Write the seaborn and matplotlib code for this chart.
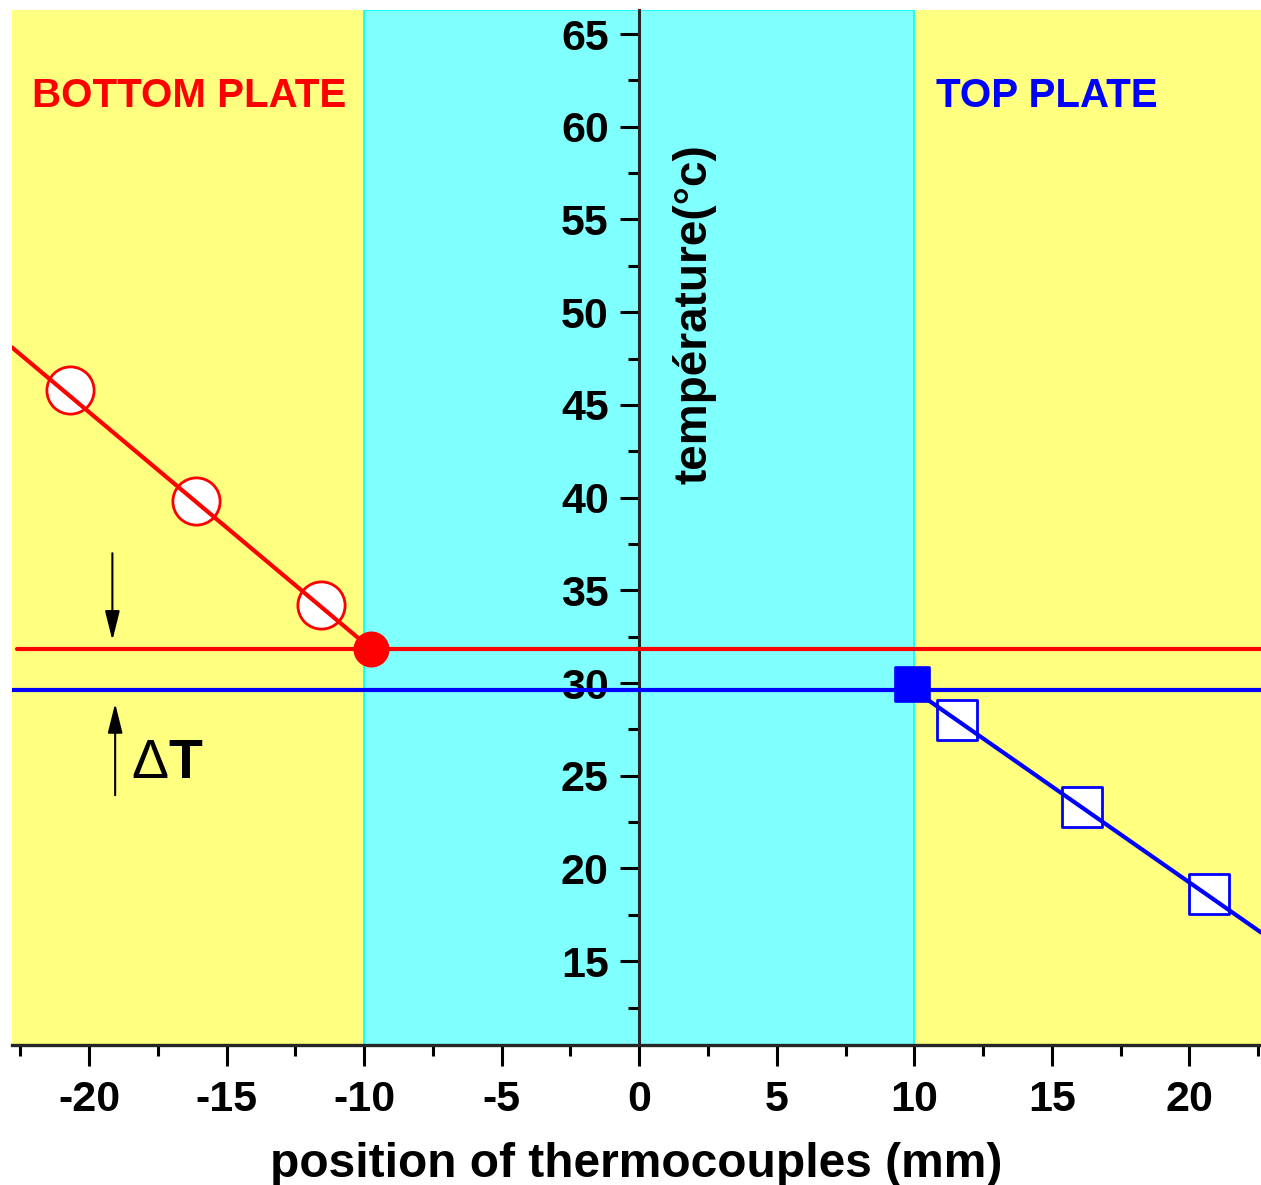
import matplotlib
matplotlib.use('Agg')
import matplotlib.pyplot as plt
from matplotlib.ticker import MultipleLocator
import seaborn as sns
import pandas as pd

sns.set_style('ticks')
plt.rcParams['font.family'] = ['Liberation Sans', 'DejaVu Sans']
plt.rcParams['font.weight'] = 'bold'
plt.rcParams['axes.unicode_minus'] = False
for key in ['text.color', 'axes.labelcolor', 'xtick.color', 'ytick.color',
            'xtick.labelcolor', 'ytick.labelcolor']:
    plt.rcParams[key] = 'black'

# thermocouple readings (mm, °C)
bottom_x = [-20.7, -16.1, -11.55]
bottom_y = [45.8, 39.8, 34.2]
bottom_surf_x = [-9.75]
bottom_surf_y = [31.85]
top_x = [11.55, 16.1, 20.7]
top_y = [28.0, 23.3, 18.6]
top_surf_x = [9.9]
top_surf_y = [29.95]

# linear fits extrapolated to the plate surfaces
bottom_fit_x = [-22.8, -9.75]
bottom_fit_y = [48.1, 31.85]
top_fit_x = [10.0, 22.6]
top_fit_y = [29.6, 16.55]

# surface temperatures (horizontal levels)
t_bottom = 31.85
t_top = 29.62

yellow = '#FFFF80'
cyan = '#80FFFF'
red = '#FF0000'
blue = '#0000FF'

fig = plt.figure(figsize=(12.61, 11.85), dpi=100)
ax = fig.add_axes([0.0095, 0.118, 0.9905, 0.8736])
ax.set_facecolor(yellow)
ax.axvspan(-10, 10, facecolor=cyan, edgecolor='#00FFFF', lw=1.2, zorder=0)

# horizontal surface-temperature lines
sns.lineplot(x=[-22.6, 22.6], y=[t_bottom, t_bottom], color=red, lw=3, ax=ax, zorder=4)
sns.lineplot(x=[-22.8, 22.6], y=[t_top, t_top], color=blue, lw=3, ax=ax, zorder=4)

# fit lines
sns.lineplot(x=bottom_fit_x, y=bottom_fit_y, color=red, lw=3, ax=ax, zorder=4)
sns.lineplot(x=top_fit_x, y=top_fit_y, color=blue, lw=3, ax=ax, zorder=4)

# measured points
df_b = pd.DataFrame({'x': bottom_x, 'y': bottom_y})
df_t = pd.DataFrame({'x': top_x, 'y': top_y})
sns.scatterplot(data=df_b, x='x', y='y', marker='o', s=34**2, facecolor='white',
                edgecolor=red, linewidth=2, ax=ax, zorder=3)
sns.scatterplot(data=df_t, x='x', y='y', marker='s', s=29**2, facecolor='white',
                edgecolor=blue, linewidth=2, ax=ax, zorder=3)
sns.scatterplot(x=bottom_surf_x, y=bottom_surf_y, marker='o', s=24**2, color=red,
                edgecolor=red, ax=ax, zorder=5)
sns.scatterplot(x=top_surf_x, y=top_surf_y, marker='s', s=24**2, color=blue,
                edgecolor=blue, ax=ax, zorder=5)

# delta T arrows
arrow = dict(arrowstyle='-|>,head_length=0.6,head_width=0.15', color='black',
             lw=1.5, mutation_scale=30, shrinkA=0, shrinkB=0)
ax.annotate('', xy=(-19.15, 32.3), xytext=(-19.15, 37.0), arrowprops=arrow)
ax.annotate('', xy=(-19.05, 28.9), xytext=(-19.05, 23.95), arrowprops=arrow)
ax.text(-18.45, 24.87, 'Δ', fontsize=40, fontweight='normal', va='baseline', ha='left')
ax.text(-17.1, 24.87, 'T', fontsize=40, fontweight='bold', va='baseline', ha='left')

ax.text(-22.07, 61.66, 'BOTTOM PLATE', color=red, fontsize=29, fontweight='bold',
        ha='left', va='center')
ax.text(10.8, 61.66, 'TOP PLATE', color=blue, fontsize=29, fontweight='bold',
        ha='left', va='center')
ax.text(2.0, 49.9, 'température(°c)', rotation=90, fontsize=33, fontweight='bold',
        ha='center', va='center')

ax.set_xlim(-22.8, 22.6)
ax.set_ylim(10.47, 66.3)

for s in ['top', 'right']:
    ax.spines[s].set_visible(False)
ax.spines['left'].set_position(('data', 0))
ax.spines['left'].set_linewidth(2.2)
ax.spines['bottom'].set_linewidth(2.4)
ax.spines['left'].set_zorder(2.5)

ax.xaxis.set_major_locator(MultipleLocator(5))
ax.xaxis.set_minor_locator(MultipleLocator(2.5))
ax.yaxis.set_major_locator(MultipleLocator(5))
ax.yaxis.set_minor_locator(MultipleLocator(2.5))
ax.set_yticks(range(15, 70, 5))
ax.tick_params(axis='both', which='major', direction='out', length=14, width=2.2,
               labelsize=31, pad=8)
ax.tick_params(axis='x', which='major', length=15, pad=10)
ax.tick_params(axis='both', which='minor', direction='out', length=8, width=2.2)
for lab in ax.get_xticklabels() + ax.get_yticklabels():
    lab.set_fontweight('bold')

ax.set_xlabel('position of thermocouples (mm)', fontsize=34.5, fontweight='bold', labelpad=16)
ax.set_ylabel('')

fig.savefig('out.png', dpi=100)
